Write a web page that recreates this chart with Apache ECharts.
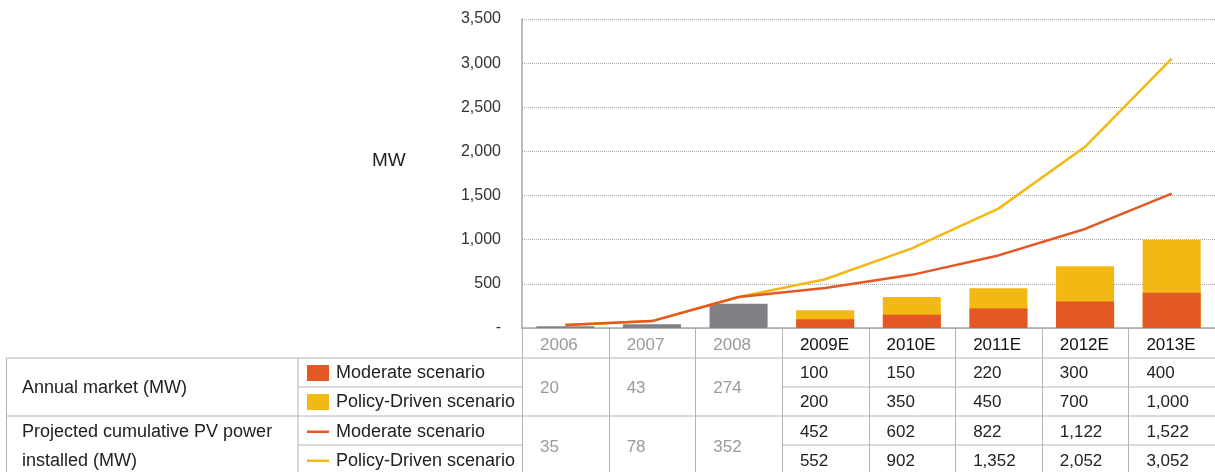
<!DOCTYPE html>
<html><head><meta charset="utf-8">
<script src="https://cdn.jsdelivr.net/npm/echarts@6/dist/echarts.min.js"></script>
<style>html,body{margin:0;padding:0;background:#fff}#c{width:1215px;height:472px}</style>
</head><body><div id="c"></div>
<script>
// ---- data ----
const categories = ['2006', '2007', '2008', '2009E', '2010E', '2011E', '2012E', '2013E'];
const historicAnnual = [20, 43, 274];
const moderateAnnual = [100, 150, 220, 300, 400];
const policyAnnual = [200, 350, 450, 700, 1000];
const moderateCumulative = [35, 78, 352, 452, 602, 822, 1122, 1522];
const policyCumulative = [35, 78, 352, 552, 902, 1352, 2052, 3052];
const yTickLabels = ['-', '500', '1,000', '1,500', '2,000', '2,500', '3,000', '3,500'];
const rowGroups = ['Annual market (MW)', 'Projected cumulative PV power\ninstalled (MW)'];
const scenarioNames = ['Moderate scenario', 'Policy-Driven scenario'];

// ---- styles ----
const ORANGE = '#E45826', YELLOW = '#F2B814', GRAY = '#818185';
const FONT = '"Liberation Sans", Arial, Helvetica, sans-serif';
const BORDER = '#b4b4b4';
const nH = categories.length - historicAnnual.length;
const pad = (arr, before, after) => Array(before).fill(null).concat(arr, Array(after).fill(null));
const fmt = v => v.toLocaleString('en-US');

const chart = echarts.init(document.getElementById('c'), null, {renderer: 'canvas'});
chart.setOption({
  animation: false,
  grid: {left: 522, right: 0, top: 19, bottom: 144, containLabel: false},
  xAxis: {
    type: 'category', data: categories, boundaryGap: true,
    axisLine: {show: true, lineStyle: {color: '#a6a6a6', width: 1.5}},
    axisTick: {show: false}, axisLabel: {show: false}, splitLine: {show: false}
  },
  yAxis: {
    type: 'value', min: 0, max: 3500, interval: 500,
    axisLine: {show: true, lineStyle: {color: '#a6a6a6', width: 1.5}},
    axisTick: {show: false},
    axisLabel: {margin: 21, color: '#333', fontFamily: FONT, fontSize: 16,
      formatter: v => yTickLabels[Math.round(v / 500)]},
    splitLine: {show: true, lineStyle: {color: '#a8a8a8', type: 'dotted', width: 1}}
  },
  series: [
    {type: 'bar', name: 'Historic', data: pad(historicAnnual, 0, nH), barWidth: '67%', barGap: '-100%',
      itemStyle: {color: GRAY}},
    {type: 'bar', name: 'Policy-Driven scenario', data: pad(policyAnnual, historicAnnual.length, 0), barWidth: '67%', barGap: '-100%',
      itemStyle: {color: YELLOW}},
    {type: 'bar', name: 'Moderate scenario', data: pad(moderateAnnual, historicAnnual.length, 0), barWidth: '67%', barGap: '-100%',
      itemStyle: {color: ORANGE}},
    {type: 'line', name: 'Policy-Driven cumulative', data: policyCumulative, showSymbol: false, symbol: 'none',
      lineStyle: {color: YELLOW, width: 2.5}, z: 3},
    {type: 'line', name: 'Moderate cumulative', data: moderateCumulative, showSymbol: false, symbol: 'none',
      lineStyle: {color: ORANGE, width: 2.5}, z: 4}
  ]
});

// ---- table drawn under the axis ----
const cx = i => chart.convertToPixel({xAxisIndex: 0}, i);
const band = cx(1) - cx(0);
const axisY = chart.convertToPixel({yAxisIndex: 0}, 0);
const colLeft = i => cx(i) - band / 2;
const xLeftTable = 6, xLegendCol = 298, xData = colLeft(0), xRight = colLeft(categories.length - 1) + band;
const yHead = axisY, yR0 = axisY + 30, yR1 = yR0 + 29, yR2 = yR0 + 58, yR3 = yR0 + 87, yBot = 480;
const rowMid = [yR0 + 15.5, yR1 + 15.5, yR2 + 16, yR3 + 16];
const g = [];
const line = (x1, y1, x2, y2) => g.push({type: 'line', shape: {x1, y1, x2, y2}, style: {stroke: BORDER, lineWidth: 1}, silent: true});
const text = (x, y, t, color, size) => g.push({type: 'text', x, y, style: {text: t, fill: color, font: (size || 17) + 'px ' + FONT, textAlign: 'left', textVerticalAlign: 'middle', lineHeight: 29}, silent: true});

// horizontal lines
line(xLeftTable, yR0, xRight, yR0);
line(xLeftTable, yR2, xRight, yR2);
line(xLegendCol, yR1, xData, yR1);
line(xLegendCol, yR3, xData, yR3);
line(colLeft(historicAnnual.length), yR1, xRight, yR1);
line(colLeft(historicAnnual.length), yR3, xRight, yR3);
// vertical lines
line(xLeftTable + 0.5, yR0, xLeftTable + 0.5, yBot);
line(xLegendCol, yR0, xLegendCol, yBot);
for (let i = 0; i < categories.length; i++) line(Math.round(colLeft(i)) + 0.5, yHead, Math.round(colLeft(i)) + 0.5, yBot);

// group labels
text(22, (yR0 + yR2) / 2 + 1, rowGroups[0], '#222', 18);
text(22, (rowMid[2] + rowMid[3]) / 2, rowGroups[1], '#222', 18);
// legend cells
g.push({type: 'rect', shape: {x: 307, y: rowMid[0] - 8.5, width: 22, height: 16}, style: {fill: ORANGE}, silent: true});
g.push({type: 'rect', shape: {x: 307, y: rowMid[1] - 8.5, width: 22, height: 16}, style: {fill: YELLOW}, silent: true});
g.push({type: 'rect', shape: {x: 307, y: rowMid[2] - 1.5, width: 22, height: 2.5}, style: {fill: ORANGE}, silent: true});
g.push({type: 'rect', shape: {x: 307, y: rowMid[3] - 1.5, width: 22, height: 2.5}, style: {fill: YELLOW}, silent: true});
for (let r = 0; r < 4; r++) text(336, rowMid[r], scenarioNames[r % 2], '#222', 18);

// header + values
for (let i = 0; i < categories.length; i++) {
  const x = colLeft(i) + 18;
  const hist = i < historicAnnual.length;
  text(x, (yHead + yR0) / 2 + 2.5, categories[i], hist ? '#9a9a9a' : '#111');
  if (hist) {
    text(x, (yR0 + yR2) / 2 + 1.5, fmt(historicAnnual[i]), '#9a9a9a');
    text(x, (rowMid[2] + rowMid[3]) / 2 + 1, fmt(moderateCumulative[i]), '#9a9a9a');
  } else {
    const k = i - historicAnnual.length;
    text(x, rowMid[0], fmt(moderateAnnual[k]), '#222');
    text(x, rowMid[1], fmt(policyAnnual[k]), '#222');
    text(x, rowMid[2], fmt(moderateCumulative[i]), '#222');
    text(x, rowMid[3], fmt(policyCumulative[i]), '#222');
  }
}
// axis title
g.push({type: 'text', x: 372, y: 161, style: {text: 'MW', fill: '#222', font: '19px ' + FONT, textVerticalAlign: 'middle'}, silent: true});

chart.setOption({graphic: {elements: g}});
</script>
</body></html>
